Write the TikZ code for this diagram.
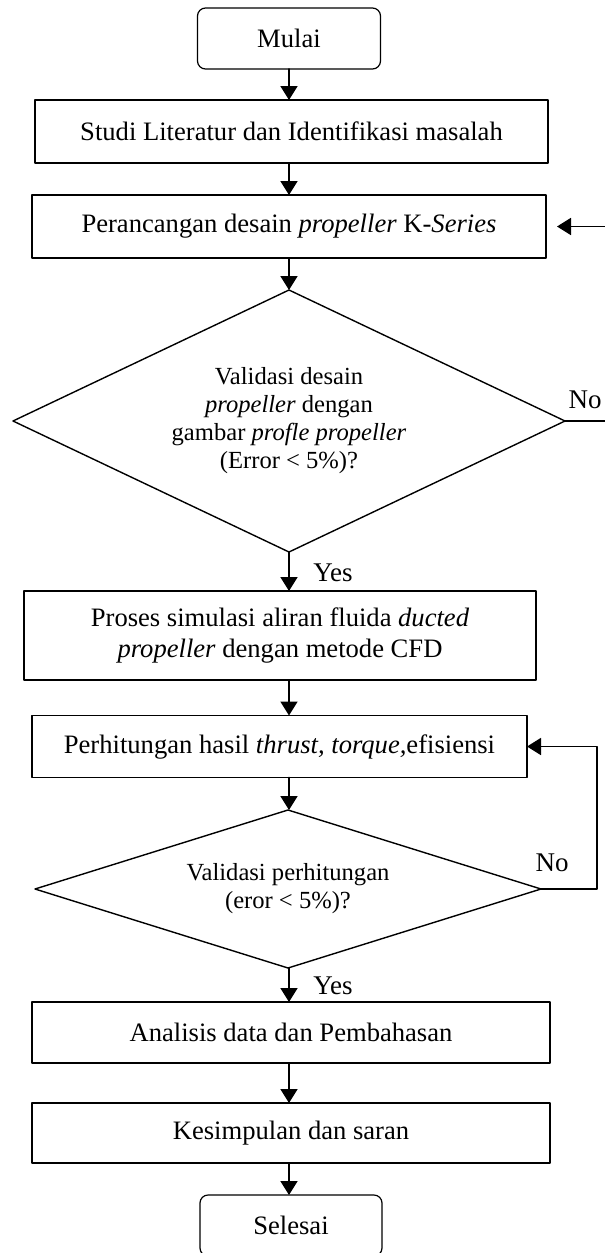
\documentclass[tikz,border=0pt]{standalone}
\usepackage{fontspec}
\setmainfont{Liberation Serif}
\usetikzlibrary{shapes.geometric,arrows.meta}

\begin{document}
\begin{tikzpicture}[x=0.5pt,y=-0.5pt,line cap=round,line join=round,
    font=\fontsize{13.3}{15.5}\selectfont,
    tahap/.style={draw,line width=0.6pt,inner sep=0pt,outer sep=0pt,align=center},
    ujung/.style={tahap,rounded corners=4pt},
    cek/.style={draw,diamond,line width=0.7pt,inner sep=0pt,outer sep=0pt,align=center,
      font=\fontsize{12.3}{14}\selectfont},
    ket/.style={font=\fontsize{13.5}{15}\selectfont},
    panah/.style={line width=0.9pt,-{Triangle[length=7pt,width=8.5pt]}}]
  \useasboundingbox (0,0) rectangle (605,1253);
  \node[ujung,minimum width=91.5pt,minimum height=30.5pt] (M) at (289,38.5) {Mulai};
  \node[tahap,minimum width=256.5pt,minimum height=31.5pt] (L) at (291.5,131.5)
    {Studi Literatur dan Identifikasi masalah};
  \node[tahap,minimum width=257pt,minimum height=31.5pt] (P) at (289,226.5)
    {Perancangan desain \textit{propeller} K-\textit{Series}};
  \node[cek,aspect=2.1,minimum width=276pt,minimum height=131pt] (V1) at (289,421)
    {Validasi desain\\\textit{propeller} dengan\\gambar \textit{profle propeller}\\(Error < 5\%)?};
  \node[tahap,minimum width=256pt,minimum height=44.5pt] (S) at (280,635.5)
    {Proses simulasi aliran fluida \textit{ducted}\\\textit{propeller} dengan metode CFD};
  \node[tahap,minimum width=247.5pt,minimum height=31pt] (H) at (279.5,746.5)
    {Perhitungan hasil \textit{thrust, torque,}efisiensi};
  \node[cek,aspect=3.2,minimum width=253pt,minimum height=79pt] (V2) at (288,889)
    {Validasi perhitungan\\(eror < 5\%)?};
  \node[tahap,minimum width=259pt,minimum height=30.5pt] (D) at (291,1032.5)
    {Analisis data dan Pembahasan};
  \node[tahap,minimum width=259pt,minimum height=30pt] (K) at (291,1133)
    {Kesimpulan dan saran};
  \node[ujung,minimum width=91pt,minimum height=30.5pt] (E) at (291,1225.5) {Selesai};
  % alur utama
  \draw[panah] (M.south) -- (L.north -| M.south);
  \draw[panah] (L.south -| M.south) -- (P.north -| M.south);
  \draw[panah] (P.south -| M.south) -- (V1.north);
  \draw[panah] (V1.south) -- (S.north -| V1.south);
  \draw[panah] (S.south -| M.south) -- (H.north -| M.south);
  \draw[panah] (H.south -| M.south) -- (V2.north -| M.south);
  \draw[panah] (V2.south -| M.south) -- (D.north -| M.south);
  \draw[panah] (D.south -| M.south) -- (K.north -| M.south);
  \draw[panah] (K.south -| M.south) -- (E.north -| M.south);
  % umpan balik
  \draw[panah,shorten >=5.5pt] (V1.east) -- ++(50,0) |- (P.east);
  \draw[panah] (V2.east) -- ++(56,0) |- (H.east);
  \node[ket] (no1) at (585,400) {No};
  \node[ket] (no2) at (552,863) {No};
  \node[ket] (ya1) at (333,573) {Yes};
  \node[ket] (ya2) at (333,986) {Yes};
\end{tikzpicture}
\end{document}
